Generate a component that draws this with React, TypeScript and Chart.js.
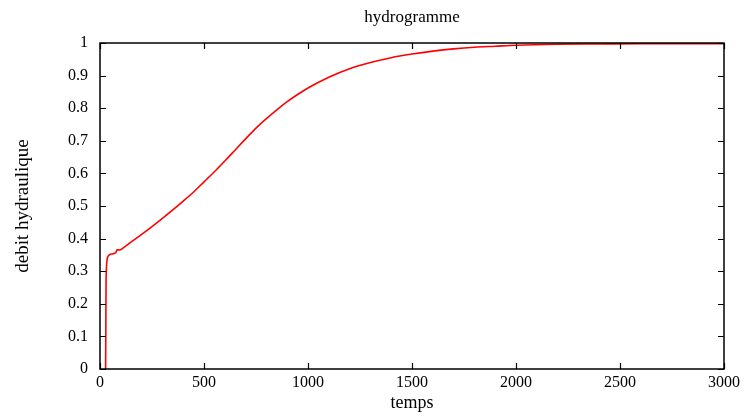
import React, { useEffect, useRef } from "react";
import { Chart, registerables } from "chart.js";

Chart.register(...registerables);

const TITLE = "hydrogramme";
const X_LABEL = "temps";
const Y_LABEL = "debit hydraulique";

const TIME = [
  27, 28, 29, 31, 34, 40, 50, 60, 70, 76, 80, 84, 95, 110, 150, 200, 250, 300, 350, 400,
  450, 500, 550, 600, 650, 700, 750, 800, 850, 900, 950, 1000, 1100, 1200, 1300, 1400,
  1500, 1600, 1700, 1800, 1900, 2000, 2200, 2400, 2600, 2800, 3000,
];
const FLOW = [
  0, 0.12, 0.25, 0.31, 0.335, 0.347, 0.352, 0.353, 0.355, 0.357, 0.364, 0.366, 0.365,
  0.371, 0.39, 0.413, 0.437, 0.462, 0.488, 0.515, 0.543, 0.574, 0.605, 0.638, 0.672,
  0.706, 0.739, 0.768, 0.795, 0.82, 0.842, 0.862, 0.895, 0.921, 0.94, 0.955, 0.966,
  0.975, 0.982, 0.987, 0.99, 0.993, 0.996, 0.997, 0.998, 0.998, 0.998,
];

const X_MIN = 0;
const X_MAX = 3000;
const X_STEP = 500;
const Y_MIN = 0;
const Y_MAX = 1;
const Y_STEP = 0.1;

const FONT = "'Liberation Serif', 'Times New Roman', serif";

const framePlugin = {
  id: "gnuplotFrame",
  afterDatasetsDraw(chart: any) {
    const { ctx, chartArea } = chart;
    const { left, right, top, bottom } = chartArea;
    const xs = chart.scales.x;
    const ys = chart.scales.y;
    const len = 6;
    ctx.save();
    ctx.strokeStyle = "#000";
    ctx.lineWidth = 1.2;
    ctx.beginPath();
    xs.ticks.forEach((t: any) => {
      const px = Math.round(xs.getPixelForValue(t.value)) + 0.5;
      ctx.moveTo(px, bottom);
      ctx.lineTo(px, bottom - len);
      ctx.moveTo(px, top);
      ctx.lineTo(px, top + len);
    });
    ys.ticks.forEach((t: any) => {
      const py = Math.round(ys.getPixelForValue(t.value)) + 0.5;
      ctx.moveTo(left, py);
      ctx.lineTo(left + len, py);
      ctx.moveTo(right, py);
      ctx.lineTo(right - len, py);
    });
    ctx.stroke();
    ctx.lineWidth = 1.5;
    ctx.strokeRect(left, top, right - left, bottom - top);
    ctx.restore();
  },
};

const plainLabel = (v: any) => String(Math.round(Number(v) * 1000) / 1000);

export default function App() {
  const ref = useRef<HTMLCanvasElement | null>(null);

  useEffect(() => {
    if (!ref.current) return;
    const chart = new Chart(ref.current, {
      type: "line",
      data: {
        datasets: [
          {
            data: TIME.map((t, i) => ({ x: t, y: FLOW[i] })),
            borderColor: "#ff0000",
            borderWidth: 1.6,
            pointRadius: 0,
            cubicInterpolationMode: "monotone",
            fill: false,
          },
        ],
      },
      options: {
        animation: false,
        responsive: false,
        devicePixelRatio: 1,
        layout: { padding: { left: 0, right: 26, top: 0, bottom: 0 } },
        plugins: {
          legend: { display: false },
          tooltip: { enabled: false },
          title: { display: false },
        },
        scales: {
          x: {
            type: "linear",
            position: "bottom",
            min: X_MIN,
            max: X_MAX,
            grid: { display: false, drawTicks: false },
            border: { display: false },
            ticks: {
              stepSize: X_STEP,
              padding: 4,
              maxRotation: 0,
              color: "#000",
              font: { family: FONT, size: 16 },
              callback: plainLabel,
            },
            title: {
              display: true,
              text: X_LABEL,
              color: "#000",
              font: { family: FONT, size: 18 },
              padding: { top: 0, bottom: 4 },
            },
            afterFit: (s: any) => {
              s.height = 49;
            },
          },
          x2: {
            type: "linear",
            position: "top",
            min: X_MIN,
            max: X_MAX,
            grid: { display: false, drawTicks: false },
            border: { display: false },
            ticks: { display: false },
            title: {
              display: true,
              text: TITLE,
              color: "#000",
              font: { family: FONT, size: 17 },
              padding: { top: 7, bottom: 0 },
            },
            afterFit: (s: any) => {
              s.height = 43;
            },
          },
          y: {
            type: "linear",
            position: "left",
            min: Y_MIN,
            max: Y_MAX,
            grid: { display: false, drawTicks: false },
            border: { display: false },
            ticks: {
              stepSize: Y_STEP,
              padding: 12,
              color: "#000",
              font: { family: FONT, size: 16 },
              callback: plainLabel,
            },
            title: {
              display: true,
              text: Y_LABEL,
              color: "#000",
              font: { family: FONT, size: 19 },
              padding: { top: 12, bottom: 0 },
            },
            afterFit: (s: any) => {
              s.width = 100;
            },
          },
        },
      },
      plugins: [framePlugin],
    });
    return () => chart.destroy();
  }, []);

  return (
    <div style={{ position: "fixed", left: 0, top: 0, width: 750, height: 418, background: "#fff" }}>
      <canvas ref={ref} width={750} height={418} />
    </div>
  );
}
